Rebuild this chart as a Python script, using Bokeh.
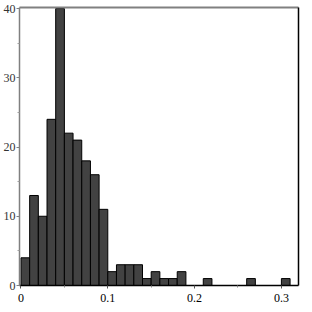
from bokeh.plotting import figure
from bokeh.models import LinearAxis, FixedTicker, Range1d
from bokeh.embed import file_html
from bokeh.resources import INLINE

# Histogram data (bin width 0.01, starting at 0)
bin_width = 0.01
counts = [4, 13, 10, 24, 40, 22, 21, 18, 16, 11,
          2, 3, 3, 3, 1, 2, 1, 1, 2, 0,
          0, 1, 0, 0, 0, 0, 1, 0, 0, 0,
          1]
x_ticks = [0, 0.1, 0.2, 0.3]
x_tick_labels = ["0", "0.1", "0.2", "0.3"]
y_ticks = [0, 10, 20, 30, 40]

lefts = [i * bin_width for i in range(len(counts))]
L, R, T = [], [], []
for l, c in zip(lefts, counts):
    if c > 0:
        L.append(l)
        R.append(l + bin_width)
        T.append(c)

p = figure(width=300, height=304, output_backend="svg", toolbar_location=None,
           x_range=Range1d(-0.0017, 0.3197), y_range=Range1d(0, 40.15),
           min_border_left=12, min_border_right=2, min_border_top=7, min_border_bottom=4)
p.outline_line_color = None
p.grid.visible = False
p.background_fill_color = "white"
p.border_fill_color = "white"

p.quad(left=L, right=R, bottom=0, top=T, fill_color="#424242", line_color="black", line_width=1)

font = "Liberation Serif"

xa = p.xaxis[0]
xa.ticker = FixedTicker(ticks=x_ticks, minor_ticks=[0.05, 0.15, 0.25])
xa.major_label_overrides = {t: s for t, s in zip(x_ticks, x_tick_labels)}
xa.axis_line_color = "black"
xa.axis_line_width = 1.5
xa.major_tick_in = 0
xa.major_tick_out = 3
xa.minor_tick_in = 0
xa.minor_tick_out = 2
xa.major_tick_line_color = "#555555"
xa.minor_tick_line_color = "#888888"
xa.major_label_text_font = font
xa.major_label_text_font_size = "12px"
xa.major_label_text_color = "black"
xa.major_label_standoff = 5

ya = p.yaxis[0]
ya.ticker = FixedTicker(ticks=y_ticks, minor_ticks=[5, 15, 25, 35])
ya.axis_line_color = "#808080"
ya.axis_line_width = 1.5
ya.major_tick_in = 0
ya.major_tick_out = 3
ya.minor_tick_in = 0
ya.minor_tick_out = 2
ya.major_tick_line_color = "#808080"
ya.minor_tick_line_color = "#a0a0a0"
ya.major_label_text_font = font
ya.major_label_text_font_size = "12px"
ya.major_label_text_color = "#333333"
ya.major_label_standoff = 1

# frame borders: top grey, right black
top = LinearAxis(ticker=FixedTicker(ticks=[]), axis_line_color="#808080", axis_line_width=2,
                 major_tick_out=0, major_tick_in=0, minor_tick_out=0, minor_tick_in=0,
                 major_label_text_font_size="0px", major_label_standoff=0)
right = LinearAxis(ticker=FixedTicker(ticks=[]), axis_line_color="black", axis_line_width=1.5,
                   major_tick_out=0, major_tick_in=0, minor_tick_out=0, minor_tick_in=0,
                   major_label_text_font_size="0px", major_label_standoff=0)
p.add_layout(top, "above")
p.add_layout(right, "right")

open("out.html", "w").write(file_html(p, INLINE))
